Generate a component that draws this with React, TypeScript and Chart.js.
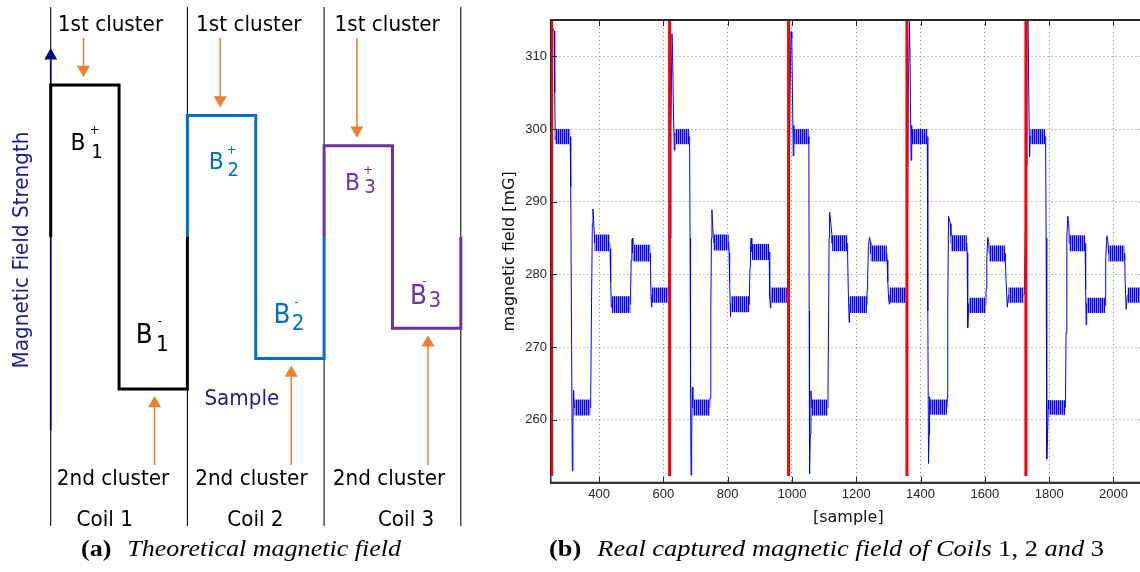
import { useEffect, useRef } from "react";
import { Chart, registerables } from "chart.js";

Chart.register(...registerables);

// ---------------- (a) Theoretical magnetic field ----------------
const COIL_NAMES = ["Coil 1", "Coil 2", "Coil 3"];
const COIL_LEVELS = [1.0, 0.8, 0.6]; // relative B+ (and -B-) of each coil
const COIL_COLORS = ["#000000", "#0070c0", "#7030a0"];
const CLUSTER_TEXT = ["1st cluster", "2nd cluster"];

// ---------------- (b) Real captured magnetic field ----------------
const X_TICKS = [400, 600, 800, 1000, 1200, 1400, 1600, 1800, 2000];
const Y_TICKS = [260, 270, 280, 290, 300, 310];
const COIL_SWITCHES = [252.5, 619.3, 989.4, 1357.6, 1727.7];

// transitions / spikes [sample, mG]
const CYCLE_1: [number, number][] = [
  [250, 277.5], [252.5, 300], [255, 313.9], [260, 313.5], [262, 305], [263.5, 298.5],
  [311, 298.5], [312.5, 292], [314.5, 270], [316.7, 253], [318.5, 259], [320.7, 264.1], [322.5, 262],
  [374, 263.5], [376.5, 276], [379, 287], [381, 289], [383.5, 287], [385.5, 285.3],
  [434, 283.5], [436, 279], [438, 275.5],
  [498, 278], [500, 282], [502, 284.8], [504, 285],
  [560, 281], [561.5, 277], [563, 275.5],
  [616, 277.3],
];
const CYCLE_2: [number, number][] = [
  [621, 285], [623.5, 300], [626.7, 313.1], [628.5, 311], [631, 303], [634, 297.1], [636, 299.5],
  [681.5, 298.5], [683, 285], [684.5, 265], [686, 252.4], [688, 258], [690, 264.5], [691.5, 262],
  [745, 263], [747.5, 275], [749.5, 285], [751, 288.9], [753, 287], [755.5, 285],
  [804.5, 283], [806, 279], [809, 274.2], [810.5, 276],
  [868, 278], [869.5, 281], [871, 284], [873, 285],
  [930, 281.5], [931.5, 277], [933, 275.4],
  [986, 277.3],
];
const CYCLE_3: [number, number][] = [
  [991, 290], [994, 305], [997, 313.4], [999.5, 312.5], [1002, 303], [1004, 296.3], [1006, 300.5],
  [1052.5, 298], [1053.5, 275], [1054.7, 252.6], [1057, 258], [1059, 264], [1061, 262],
  [1112, 263], [1114, 275], [1115.5, 285], [1117, 288.6], [1121, 287], [1124.5, 285.3],
  [1173, 283], [1175, 278], [1178, 273.4],
  [1234, 278], [1235.5, 280], [1238, 284], [1241, 285.1], [1244, 284.5],
  [1296, 282], [1298, 279], [1301, 276.5], [1303, 275.9],
  [1356, 277.3],
];
const CYCLE_4: [number, number][] = [
  [1359.5, 290], [1362, 305], [1365.5, 314.8], [1367.5, 309], [1370.5, 295.7], [1372, 300.5],
  [1422, 298], [1423, 275], [1424.8, 254], [1426.5, 258], [1428, 263.2], [1429.5, 261.5],
  [1483, 263], [1484.5, 275], [1487, 288], [1490, 287.5], [1492, 287], [1494.5, 285.3],
  [1545, 283], [1546, 278], [1547.3, 272.7], [1550, 276],
  [1604, 278], [1606, 282], [1609, 285.1], [1612, 284.5],
  [1664, 282], [1666, 279], [1670, 275.5], [1673, 277],
  [1723, 277.3],
];
const CYCLE_5: [number, number][] = [
  [1729, 295], [1731, 317], [1734, 317], [1736.5, 305], [1739, 296.2], [1741, 299],
  [1789, 298.5], [1790.6, 285], [1792, 265], [1793, 254.6], [1795, 258], [1798, 262.7], [1799.5, 261.5],
  [1851, 263], [1852.5, 272], [1855, 285], [1858, 288], [1860.5, 287], [1862.5, 285.3],
  [1913, 283], [1914, 278], [1915, 273.1], [1916.5, 276],
  [1975, 278], [1976.5, 282], [1979.6, 285.3], [1983, 284.5],
  [2035, 282], [2036.5, 279], [2039.6, 275.2], [2043, 277],
  [2105, 277.2],
];

// rippling plateaus [startSample, endSample, low mG, high mG]
const PLATEAUS_1: [number, number, number, number][] = [
  [264, 310, 297.9, 300], [323.8, 372.6, 260.6, 262.8], [386, 432.7, 283.2, 285.5],
  [440, 497, 274.7, 277], [505, 559, 281.8, 284.1], [564.5, 614.3, 276.1, 278.2],
];
const PLATEAUS_2: [number, number, number, number][] = [
  [637, 680.5, 297.9, 300], [692, 744, 260.6, 262.8], [756, 803, 283.3, 285.5],
  [811, 867, 274.8, 277], [875, 929, 282, 284.2], [934.5, 984, 276.1, 278.2],
];
const PLATEAUS_3: [number, number, number, number][] = [
  [1007, 1052, 297.9, 300], [1062, 1110.7, 260.6, 262.8], [1125, 1172, 283.2, 285.4],
  [1179, 1233, 274.7, 277], [1245, 1295, 281.8, 284], [1304, 1354.5, 276.1, 278.2],
];
const PLATEAUS_4: [number, number, number, number][] = [
  [1373, 1421, 297.9, 300], [1430, 1482, 260.7, 262.8], [1495, 1544, 283.2, 285.4],
  [1551, 1603, 274.7, 276.8], [1613.5, 1663, 281.8, 284], [1673.6, 1720, 276.1, 278.2],
];
const PLATEAUS_5: [number, number, number, number][] = [
  [1742, 1788, 297.9, 300], [1800, 1850, 260.7, 262.7], [1863, 1912, 283.2, 285.4],
  [1917, 1974, 274.7, 276.8], [1984.6, 2034, 281.8, 284], [2044, 2105, 276.1, 278.2],
];

const CYCLES = [CYCLE_1, CYCLE_2, CYCLE_3, CYCLE_4, CYCLE_5];
const PLATEAUS = [PLATEAUS_1, PLATEAUS_2, PLATEAUS_3, PLATEAUS_4, PLATEAUS_5];

// ---------------- layout (panel a) ----------------
const LA = { W: 470, H: 572, X0: 50.7, SLOT: 136.7, MID: 237, LEVEL: 152 };
const vy = (py: number) => (LA.MID - py) / LA.LEVEL;
const HEAD_R = 7.5;
const SANS = '"DejaVu Sans", sans-serif';
const NAVY = "#1c1c8c";
const ORANGE = "#ed7d31";

function leftConfig(): any {
  const ds: any[] = [];
  const line = (pts: any[], color: string, width: number, order: number) => ({
    data: pts, borderColor: color, borderWidth: width, pointRadius: 0, fill: false,
    tension: 0, borderCapStyle: "butt", borderJoinStyle: "miter", order,
  });
  const head = (x: number, y: number, color: string, rot: number) => ({
    data: [{ x, y }], showLine: false, pointStyle: "triangle", pointRadius: HEAD_R,
    pointRotation: rot, pointBackgroundColor: color, pointBorderWidth: 0, order: 1,
  });
  for (let i = 0; i <= COIL_NAMES.length; i++) {
    ds.push(line([{ x: i, y: vy(7) }, { x: i, y: vy(526) }], "#1e1e1e", 1.2, 6));
  }
  ds.push(line([{ x: 0, y: vy(58) }, { x: 0, y: vy(430) }], "#000080", 1.6, 5));
  ds.push(head(0, vy(48.3) - HEAD_R / LA.LEVEL, "#000080", 0));
  COIL_LEVELS.forEach((lv, c) => {
    ds.push(line([
      { x: c, y: 0 }, { x: c, y: lv }, { x: c + 0.5, y: lv }, { x: c + 0.5, y: -lv },
      { x: c + 1, y: -lv }, { x: c + 1, y: 0 },
    ], COIL_COLORS[c], 3, 2));
    // 1st cluster arrow (down)
    const tipT = lv + 8 / LA.LEVEL;
    const cT = tipT + HEAD_R / LA.LEVEL;
    ds.push(line([{ x: c + 0.24, y: vy(38) }, { x: c + 0.24, y: cT }], ORANGE, 1.5, 1));
    ds.push(head(c + 0.24, cT, ORANGE, 180));
    // 2nd cluster arrow (up)
    const tipB = -lv - 7 / LA.LEVEL;
    const cB = tipB - HEAD_R / LA.LEVEL;
    ds.push(line([{ x: c + 0.76, y: vy(465) }, { x: c + 0.76, y: cB }], ORANGE, 1.5, 1));
    ds.push(head(c + 0.76, cB, ORANGE, 0));
  });

  type Piece = [string, number, number, number, string];
  const pieces: Piece[] = [
    // B labels: text, x, baseline, size, color
    ["B", 70.5, 150, 23.5, COIL_COLORS[0]], ["+", 89.5, 133.5, 13, COIL_COLORS[0]], ["1", 91.2, 158, 19.5, COIL_COLORS[0]],
    ["B", 208.8, 169.3, 23.5, COIL_COLORS[1]], ["+", 226.5, 154.3, 13, COIL_COLORS[1]], ["2", 227.6, 176, 19.5, COIL_COLORS[1]],
    ["B", 345, 190, 23.5, COIL_COLORS[2]], ["+", 363.1, 173.5, 13, COIL_COLORS[2]], ["3", 364.2, 193.3, 19.5, COIL_COLORS[2]],
    ["B", 135.7, 342.7, 26.5, COIL_COLORS[0]], ["-", 157.7, 325.3, 13, COIL_COLORS[0]], ["1", 155.9, 350.7, 21.5, COIL_COLORS[0]],
    ["B", 273.4, 323, 26.5, COIL_COLORS[1]], ["-", 294.4, 305.8, 13, COIL_COLORS[1]], ["2", 291.7, 330, 21.5, COIL_COLORS[1]],
    ["B", 410.1, 304, 26.5, COIL_COLORS[2]], ["-", 422.4, 285.3, 13, COIL_COLORS[2]], ["3", 428.4, 306.7, 21.5, COIL_COLORS[2]],
    [CLUSTER_TEXT[0], 57.8, 30.7, 21.5, "#000"], [CLUSTER_TEXT[0], 196.1, 30.7, 21.5, "#000"], [CLUSTER_TEXT[0], 334.5, 30.7, 21.5, "#000"],
    [CLUSTER_TEXT[1], 56.8, 485.4, 21.5, "#000"], [CLUSTER_TEXT[1], 195.2, 485.4, 21.5, "#000"], [CLUSTER_TEXT[1], 332.8, 485.4, 21.5, "#000"],
    [COIL_NAMES[0], 76.6, 525.5, 21.5, "#000"], [COIL_NAMES[1], 227.2, 525.5, 21.5, "#000"], [COIL_NAMES[2], 377.9, 525.5, 21.5, "#000"],
    ["Sample", 204.4, 405, 21.5, NAVY],
  ];

  const textPlugin = {
    id: "schematicText",
    afterDatasetsDraw(chart: any) {
      const ctx = chart.ctx as CanvasRenderingContext2D;
      const put = (t: string, x: number, y: number, size: number, color: string, rot = 0, align: CanvasTextAlign = "left") => {
        ctx.save();
        ctx.translate(x, y);
        if (rot) ctx.rotate(rot);
        ctx.scale(0.93, 1);
        ctx.font = `${size}px ${SANS}`;
        ctx.fillStyle = color;
        ctx.textAlign = align;
        ctx.textBaseline = "alphabetic";
        ctx.fillText(t, 0, 0);
        ctx.restore();
      };
      pieces.forEach(([t, x, y, s, c]) => put(t, x, y, s, c));
      put("Magnetic Field Strength", 28, 250, 21.5, NAVY, -Math.PI / 2, "center");
    },
  };

  return {
    type: "line",
    data: { datasets: ds },
    options: {
      animation: false, responsive: false, devicePixelRatio: 1,
      layout: { padding: 0, autoPadding: false },
      plugins: { legend: { display: false }, tooltip: { enabled: false } },
      scales: {
        x: { type: "linear", display: false, min: -LA.X0 / LA.SLOT, max: (LA.W - LA.X0) / LA.SLOT },
        y: { type: "linear", display: false, min: -(LA.H - LA.MID) / LA.LEVEL, max: LA.MID / LA.LEVEL },
      },
    },
    plugins: [textPlugin],
  };
}

function rippleFill(): CanvasPattern | string {
  const c = document.createElement("canvas");
  c.width = 2; c.height = 1;
  const g = c.getContext("2d");
  if (!g) return "#3a3aff";
  g.fillStyle = "#0000ff"; g.fillRect(0, 0, 1, 1);
  g.fillStyle = "#8c8cff"; g.fillRect(1, 0, 1, 1);
  const p = g.createPattern(c, "repeat");
  return p || "#3a3aff";
}

function rightConfig(): any {
  const pts: { x: number; y: number }[] = [];
  CYCLES.forEach((cy) => cy.forEach(([x, y]) => pts.push({ x, y })));
  PLATEAUS.forEach((pl) => pl.forEach(([s, e, lo, hi]) => {
    const m = (lo + hi) / 2;
    pts.push({ x: s, y: m }, { x: e, y: m });
  }));
  pts.sort((a, b) => a.x - b.x);

  const pattern = rippleFill();
  const ds: any[] = [];
  COIL_SWITCHES.forEach((x) => ds.push({
    data: [{ x, y: 252.3 }, { x, y: 316 }], borderColor: "#ff0000", borderWidth: 3,
    pointRadius: 0, fill: false, order: 0, borderCapStyle: "butt",
  }));
  PLATEAUS.forEach((pl) => pl.forEach(([s, e, lo, hi]) => ds.push({
    data: [{ x: s, y: lo }, { x: s, y: hi }, { x: e, y: hi }, { x: e, y: lo }],
    borderColor: "rgba(0,0,0,0)", borderWidth: 1, backgroundColor: pattern, fill: "shape",
    pointRadius: 0, order: 1,
  })));
  ds.push({
    data: pts, borderColor: "#0000ff", borderWidth: 1, pointRadius: 0, fill: false,
    tension: 0, order: 2,
  });

  const frame = {
    id: "matlabFrame",
    afterDatasetsDraw(chart: any) {
      const { ctx, chartArea: a, scales } = chart;
      const x = scales.x, y = scales.y;
      ctx.save();
      ctx.strokeStyle = "#262626";
      ctx.lineWidth = 1;
      ctx.beginPath();
      X_TICKS.forEach((v) => {
        const px = Math.round(x.getPixelForValue(v)) + 0.5;
        ctx.moveTo(px, a.top); ctx.lineTo(px, a.top + 6);
        ctx.moveTo(px, a.bottom); ctx.lineTo(px, a.bottom - 6);
      });
      Y_TICKS.forEach((v) => {
        const py = Math.round(y.getPixelForValue(v)) + 0.5;
        ctx.moveTo(a.left, py); ctx.lineTo(a.left + 6, py);
        ctx.moveTo(a.right, py); ctx.lineTo(a.right - 6, py);
      });
      ctx.stroke();
      ctx.lineWidth = 2;
      ctx.beginPath();
      ctx.moveTo(a.left - 1, a.top); ctx.lineTo(a.right + 1, a.top);
      ctx.moveTo(a.left - 1, a.bottom); ctx.lineTo(a.right + 1, a.bottom);
      ctx.moveTo(a.right, a.top); ctx.lineTo(a.right, a.bottom);
      ctx.stroke();
      ctx.restore();
    },
  };

  const gridOpts = { color: "#8a8a8a", lineWidth: 1, drawTicks: false };
  const borderOpts = { display: true, color: "#262626", width: 1.5, dash: [1, 3] };
  const tickFont = { family: '"Liberation Sans", Arial, sans-serif', size: 13 };
  const plain = (v: any) => String(v);

  return {
    type: "line",
    data: { datasets: ds },
    options: {
      animation: false, responsive: false, devicePixelRatio: 1,
      layout: { padding: { top: 20, right: 4.4, bottom: 44.4, left: 0 }, autoPadding: false },
      plugins: { legend: { display: false }, tooltip: { enabled: false } },
      scales: {
        x: {
          type: "linear", min: 250.4, max: 2100,
          afterBuildTicks: (s: any) => { s.ticks = X_TICKS.map((value) => ({ value })); },
          afterFit: (s: any) => { s.height = 44.8; },
          ticks: { font: tickFont, color: "#262626", padding: 4, maxRotation: 0, autoSkip: false, callback: plain },
          grid: gridOpts, border: borderOpts,
          title: { display: true, text: "[sample]", color: "#111", padding: 0, font: { family: SANS, size: 16 } },
        },
        y: {
          type: "linear", min: 251.35, max: 315,
          afterBuildTicks: (s: any) => { s.ticks = Y_TICKS.map((value) => ({ value })); },
          afterFit: (s: any) => { s.width = 61; },
          ticks: { font: tickFont, color: "#262626", padding: 4, autoSkip: false, callback: plain },
          grid: gridOpts, border: borderOpts,
          title: { display: true, text: "magnetic field [mG]", color: "#111", padding: { top: 10.4, bottom: 0 }, font: { family: SANS, size: 16 } },
        },
      },
    },
    plugins: [frame],
  };
}

function fitWidth(el: HTMLElement | null, target: number) {
  if (!el) return;
  el.style.transform = "none";
  const w = el.getBoundingClientRect().width;
  if (w > 0) el.style.transform = `scaleX(${target / w})`;
}

const capStyle: any = {
  position: "absolute", top: 537, whiteSpace: "nowrap", fontFamily: '"Liberation Serif", serif',
  fontSize: 23, lineHeight: "23px", color: "#000", transformOrigin: "left top",
};

export default function App() {
  const leftRef = useRef<HTMLCanvasElement>(null);
  const rightRef = useRef<HTMLCanvasElement>(null);
  const capA = useRef<HTMLDivElement>(null);
  const capB = useRef<HTMLDivElement>(null);

  useEffect(() => {
    document.body.style.margin = "0";
    const left = new Chart(leftRef.current as HTMLCanvasElement, leftConfig());
    const right = new Chart(rightRef.current as HTMLCanvasElement, rightConfig());
    fitWidth(capA.current, 320);
    fitWidth(capB.current, 555);
    return () => { left.destroy(); right.destroy(); };
  }, []);

  return (
    <div style={{ position: "fixed", left: 0, top: 0, width: 1140, height: 572, overflow: "hidden", background: "#fff" }}>
      <canvas ref={leftRef} width={470} height={572} style={{ position: "absolute", left: 0, top: 0, width: 470, height: 572 }} />
      <canvas ref={rightRef} width={660} height={572} style={{ position: "absolute", left: 490, top: 0, width: 660, height: 572 }} />
      <div ref={capA} style={{ ...capStyle, left: 81 }}>
        <b>(a)</b><span style={{ display: "inline-block", width: 14 }} /><i>Theoretical magnetic field</i>
      </div>
      <div ref={capB} style={{ ...capStyle, left: 549 }}>
        <b>(b)</b><span style={{ display: "inline-block", width: 14 }} /><i>Real captured magnetic field of Coils</i> 1, 2 <i>and</i> 3
      </div>
    </div>
  );
}
